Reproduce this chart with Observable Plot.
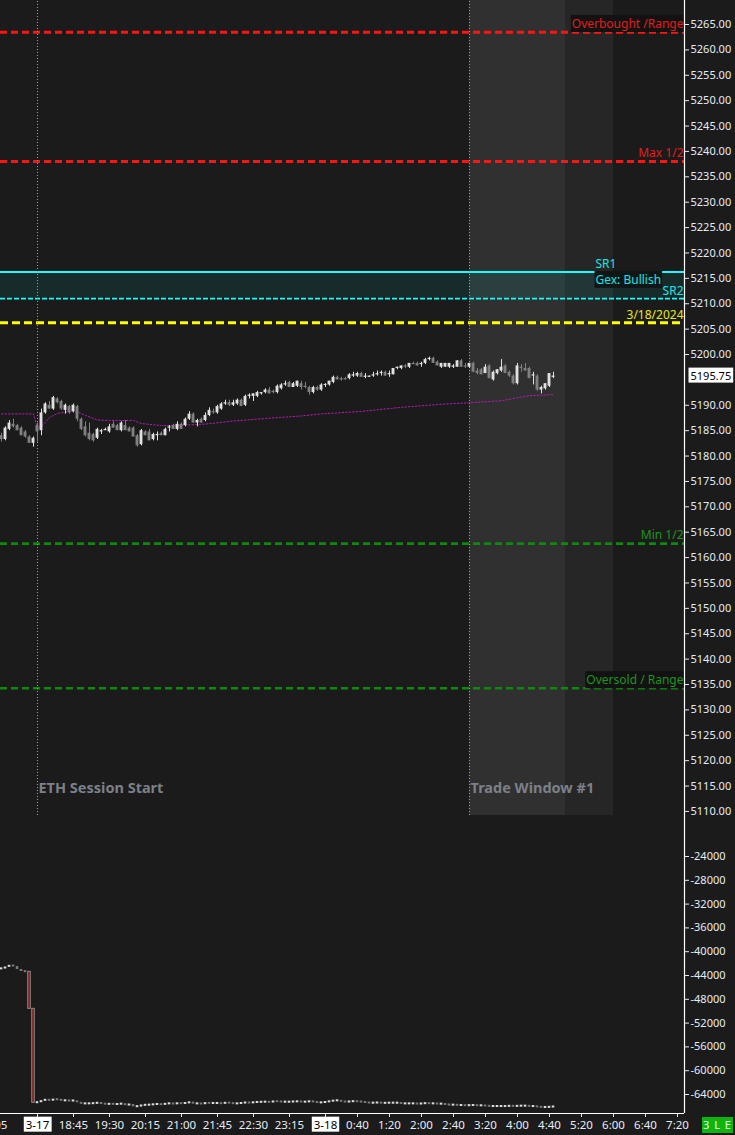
<!DOCTYPE html>
<html><head><meta charset="utf-8">
<script src="https://cdn.jsdelivr.net/npm/d3@7"></script>
<script src="https://cdn.jsdelivr.net/npm/@observablehq/plot@0.6"></script>
<style>
html,body{margin:0;padding:0;background:#1b1b1b;}
#chart{width:735px;height:1135px;position:relative;overflow:hidden;background:#1b1b1b;}
#chart svg{display:block;}
#mode{position:absolute;left:702px;top:1117px;width:31px;height:16px;background:#0fb40f;color:#e8ffe8;font:11px 'Noto Sans',sans-serif;line-height:16px;text-align:center;letter-spacing:1px;}
</style></head><body><div id="chart"></div>
<script>
// ---------- DATA ----------
// bar start, minutes from 18:00 on 3-17 (ETH session start); 5-minute bars
const barTimes = [-45,-40,-35,-30,-25,-20,-15,-10,-5,
  0,5,10,15,20,25,30,35,40,45,50,55,
  60,65,70,75,80,85,90,95,100,105,110,115,
  120,125,130,135,140,145,150,155,160,165,170,175,
  180,185,190,195,200,205,210,215,220,225,230,235,
  240,245,250,255,260,265,270,275,280,285,290,295,
  300,305,310,315,320,325,330,335,340,345,350,355,
  360,365,370,375,380,385,390,395,400,405,410,415,
  420,425,430,435,440,445,450,455,460,465,470,475,
  480,485,490,495,500,505,510,515,520,525,530,535,
  540,545,550,555,560,565,570,575,580,585,590,595,
  600,605,610,615,620,625,630,635,640,645];
const barOpen = [5184.0,5183.25,5185.25,5186.25,5186.0,5185.5,5184.75,5183.75,5182.5,
  5186.0,5185.0,5188.5,5190.0,5189.25,5191.25,5190.75,5189.0,5189.75,5188.75,5189.75,5187.25,
  5185.75,5184.5,5184.25,5183.5,5184.75,5185.0,5184.75,5186.25,5186.0,5185.0,5186.0,5185.5,
  5185.5,5184.0,5182.25,5184.75,5184.75,5183.25,5184.0,5184.5,5184.0,5185.5,5186.0,5185.25,
  5186.25,5186.0,5187.25,5188.25,5186.5,5187.25,5187.0,5188.0,5188.75,5188.5,5189.25,5190.25,
  5190.5,5190.0,5190.25,5191.0,5190.0,5191.75,5191.75,5191.75,5192.25,5192.5,5193.0,5192.75,
  5192.5,5193.25,5194.0,5194.5,5193.5,5193.75,5194.25,5193.75,5193.5,5192.5,5193.5,5193.0,
  5194.0,5194.0,5194.5,5195.5,5195.25,5195.25,5195.25,5195.75,5195.75,5196.25,5195.5,5195.5,
  5195.75,5196.0,5196.25,5196.5,5196.0,5196.0,5197.25,5197.25,5197.75,5197.5,5198.25,5198.25,
  5198.0,5198.25,5199.0,5199.25,5198.5,5197.5,5197.5,5197.5,5197.5,5197.5,5198.75,5197.75,
  5197.5,5198.25,5196.75,5197.0,5196.25,5197.75,5195.0,5196.25,5196.75,5197.75,5196.5,5195.75,
  5194.25,5197.5,5197.25,5197.25,5195.75,5195.75,5193.0,5193.25,5193.75,5195.5];
const barHigh = [5184.5,5185.75,5187.0,5187.25,5186.25,5185.75,5185.0,5184.0,5183.75,
  5186.5,5189.25,5190.5,5190.75,5191.75,5191.5,5191.0,5190.25,5190.0,5190.25,5190.0,5187.5,
  5186.75,5186.5,5184.5,5185.5,5185.25,5185.5,5186.25,5186.75,5186.25,5186.75,5187.0,5185.75,
  5185.75,5184.25,5185.25,5185.0,5185.25,5184.5,5184.75,5184.75,5185.5,5186.0,5186.25,5186.75,
  5186.5,5187.5,5188.75,5188.5,5187.25,5187.5,5188.5,5189.5,5189.25,5190.0,5190.5,5191.0,
  5191.0,5191.0,5191.25,5191.25,5192.0,5192.25,5192.25,5192.75,5192.5,5193.25,5193.5,5193.0,
  5194.0,5194.25,5194.75,5194.75,5194.5,5194.75,5194.75,5194.5,5193.75,5193.75,5193.75,5194.25,
  5194.25,5194.75,5195.75,5195.75,5195.5,5195.5,5196.25,5196.5,5196.5,5196.5,5196.25,5195.75,
  5196.5,5196.75,5196.75,5196.75,5196.75,5197.25,5197.5,5197.75,5198.0,5198.25,5198.5,5198.5,
  5198.5,5199.25,5199.5,5199.5,5198.75,5198.25,5198.25,5198.25,5198.0,5198.75,5199.0,5198.25,
  5198.25,5198.5,5197.25,5197.25,5198.0,5198.0,5196.75,5197.0,5199.0,5198.0,5196.75,5196.0,
  5198.25,5198.0,5198.25,5197.5,5196.5,5196.0,5193.75,5194.25,5196.25,5196.5];
const barLow = [5182.75,5183.0,5185.0,5185.5,5185.0,5184.0,5183.5,5182.5,5181.75,
  5182.75,5184.0,5188.25,5189.25,5189.0,5190.25,5189.0,5188.25,5188.25,5188.5,5186.75,5185.0,
  5183.75,5183.0,5182.75,5183.25,5184.25,5185.0,5184.5,5185.5,5185.0,5184.75,5185.0,5184.75,
  5183.75,5181.75,5182.0,5184.0,5183.0,5183.0,5183.0,5184.0,5184.0,5184.75,5185.25,5185.0,
  5185.25,5185.75,5187.0,5186.5,5185.75,5186.5,5186.75,5187.75,5188.25,5188.25,5189.0,5190.0,
  5189.75,5189.75,5190.0,5189.75,5189.75,5191.25,5190.75,5191.5,5192.0,5192.25,5192.25,5192.25,
  5192.25,5193.0,5193.75,5193.5,5193.5,5193.5,5193.0,5193.25,5192.0,5192.25,5192.75,5192.75,
  5193.5,5193.75,5194.25,5195.0,5194.75,5195.0,5195.0,5195.5,5195.5,5195.5,5195.25,5195.5,
  5195.5,5195.75,5195.75,5195.75,5195.5,5196.0,5197.0,5197.0,5197.25,5197.25,5198.0,5197.75,
  5197.5,5198.0,5198.75,5198.25,5197.75,5197.25,5197.5,5197.25,5197.25,5197.5,5197.5,5197.25,
  5197.25,5196.5,5196.0,5196.0,5196.25,5195.25,5194.75,5196.0,5196.5,5196.25,5195.5,5194.0,
  5194.0,5196.5,5196.75,5195.25,5194.0,5192.75,5192.25,5193.0,5193.5,5195.25];
const barClose = [5183.25,5185.5,5186.5,5185.75,5185.0,5184.0,5183.75,5182.5,5183.5,
  5184.75,5188.5,5190.25,5189.25,5191.5,5190.5,5189.25,5190.0,5188.5,5190.0,5187.25,5185.25,
  5184.0,5183.25,5183.0,5185.25,5185.0,5185.25,5185.75,5185.5,5185.0,5186.5,5185.0,5184.75,
  5183.75,5182.0,5185.0,5184.0,5183.0,5184.25,5184.25,5184.0,5185.25,5185.75,5185.25,5186.25,
  5185.25,5187.25,5188.25,5186.5,5187.0,5186.5,5188.0,5189.0,5188.5,5189.75,5190.25,5190.5,
  5190.0,5190.5,5191.0,5189.75,5191.75,5192.0,5192.25,5192.5,5192.5,5193.0,5192.25,5192.5,
  5193.75,5194.0,5194.25,5193.5,5194.25,5194.75,5193.5,5193.5,5192.5,5193.5,5193.0,5194.0,
  5194.0,5194.75,5195.5,5195.0,5195.0,5195.0,5196.0,5196.0,5196.25,5195.5,5195.75,5195.75,
  5196.0,5196.25,5196.5,5195.75,5196.25,5197.25,5197.5,5197.75,5197.5,5198.25,5198.0,5197.75,
  5198.25,5199.0,5199.25,5198.25,5197.75,5198.25,5198.25,5198.25,5197.75,5198.75,5197.5,5197.5,
  5198.25,5196.5,5196.25,5196.0,5197.5,5195.25,5196.5,5197.0,5197.5,5196.25,5195.75,5194.25,
  5197.75,5197.25,5196.75,5195.25,5196.0,5193.0,5193.5,5194.25,5196.25,5195.75];
// lower panel indicator (cumulative), one value per bar
const deltaClose = [-42880,-42600,-42320,-42490,-42990,-43330,-43380,-49600,-65400,
  -65350,-65060,-64900,-65060,-64840,-64900,-65060,-65060,-65120,-65060,-65400,-65570,
  -65570,-65570,-65510,-65460,-65570,-65680,-65620,-65680,-65680,-65570,-65850,-65680,
  -66070,-66020,-65850,-65790,-65790,-65680,-65680,-65740,-65570,-65570,-65620,-65510,
  -65570,-65460,-65340,-65570,-65570,-65620,-65460,-65510,-65510,-65510,-65570,-65400,
  -65510,-65570,-65570,-65460,-65400,-65460,-65340,-65340,-65290,-65290,-65340,-65180,
  -65230,-65290,-65290,-65290,-65230,-65230,-65290,-65290,-65180,-65290,-65400,-65400,
  -65290,-65180,-65060,-65060,-65230,-65290,-65230,-65180,-65230,-65290,-65400,-65460,
  -65460,-65400,-65510,-65460,-65460,-65460,-65460,-65570,-65570,-65570,-65570,-65620,
  -65570,-65510,-65570,-65570,-65620,-65620,-65740,-65790,-65790,-65850,-65850,-65900,
  -65850,-65850,-65900,-65900,-65960,-66020,-66020,-66020,-66020,-66020,-65960,-66020,
  -65960,-65960,-65960,-66020,-66020,-66130,-66180,-66180,-66130,-66070];
// session VWAP readings
const vwapTimes = [-45,-5,0,5,15,25,40,50,60,75,90,120,130,155,185,210,245,285,330,355,405,455,505,540,580,615,645];
const vwapValues = [5188.3,5188.3,5185.4,5185.8,5187.6,5188.4,5188.8,5188.7,5188.0,5187.1,5187.0,5187.0,5186.4,5186.0,5186.1,5186.3,5186.9,5187.4,5187.9,5188.3,5188.8,5189.6,5190.2,5190.5,5190.9,5191.9,5192.1];
// horizontal levels
const levelNames = ["Overbought /Range","Max 1/2","SR1","SR2","3/18/2024","Min 1/2","Oversold / Range"];
const levelValues = [5263.5,5238.0,5216.25,5211.0,5206.25,5162.75,5134.25];
const gexLabel = "Gex: Bullish";
// session / trade window markers (minutes)
const sessionStart = 0;
const windowStart = [540, 660];
const windowEnd = [660, 720];
const sessionLabels = ["ETH Session Start", "Trade Window #1"];
const sessionLabelTimes = [0, 540];
// axis ticks (5195.00 sits under the last-price tag)
const priceTicks = [5110,5115,5120,5125,5130,5135,5140,5145,5150,5155,5160,5165,5170,5175,5180,5185,5190,
  5200,5205,5210,5215,5220,5225,5230,5235,5240,5245,5250,5255,5260,5265];
const deltaTicks = [-24000,-28000,-32000,-36000,-40000,-44000,-48000,-52000,-56000,-60000,-64000];
const xTickTimes = [-56,0,45,90,135,180,225,270,315,360,400,440,480,520,560,600,640,680,720,760,800];
const xTickLabels = ["16:05","3-17","18:45","19:30","20:15","21:00","21:45","22:30","23:15","3-18","0:40","1:20","2:00","2:40","3:20","4:00","4:40","5:20","6:00","6:40","7:20"];

// ---------- SCALES / LAYOUT ----------
const X_DOMAIN = [-46.25, 808.75];
const Y_DOMAIN = [5105.26, 5269.73];
const PANEL_BOTTOM = 5109.2;
const D_DOMAIN = [-67193, -20471];
const FONT = "'Noto Sans', 'DejaVu Sans', sans-serif";

const bars = barTimes.map((t, i) => ({t, o: barOpen[i], h: barHigh[i], l: barLow[i], c: barClose[i]}));
bars.forEach(b => {
  b.up = b.c >= b.o;
  let lo = Math.min(b.o, b.c), hi = Math.max(b.o, b.c);
  if (hi - lo < 0.2) { const m = (hi + lo) / 2; lo = m - 0.1; hi = m + 0.1; }
  b.lo = lo; b.hi = hi;
});
const vwap = vwapTimes.map((t, i) => ({t, v: vwapValues[i]}));
const levels = levelNames.map((name, i) => ({name, value: levelValues[i]}));
const lv = Object.fromEntries(levels.map(d => [d.name, d.value]));
const windows = windowStart.map((s, i) => ({s, e: windowEnd[i], i}));
const xLabelMap = new Map(xTickTimes.map((t, i) => [t, xTickLabels[i]]));
const deltaBars = barTimes.map((t, i) => {
  const c = deltaClose[i], o = i ? deltaClose[i - 1] : c;
  let lo = Math.min(o, c), hi = Math.max(o, c);
  if (hi - lo < 340) { const m = (hi + lo) / 2; lo = m - 170; hi = m + 170; }
  return {t, o, c, lo, hi, up: c >= o, big: o - c > 2000};
});

const lineStyle = {
  "Overbought /Range": {stroke: "#ff1414", w: 3, dash: "7,4", text: "#e41c1c"},
  "Max 1/2": {stroke: "#ff1414", w: 3, dash: "7,4", text: "#e41c1c"},
  "SR1": {stroke: "#19ffff", w: 2, dash: null, text: "#19e6e6"},
  "SR2": {stroke: "#19ffff", w: 1.6, dash: "5,2", text: "#19e6e6"},
  "3/18/2024": {stroke: "#ffff00", w: 3, dash: "8,4", text: "#e6e61a"},
  "Min 1/2": {stroke: "#0c8a0c", w: 2.6, dash: "7,4", text: "#1c961c"},
  "Oversold / Range": {stroke: "#0c8a0c", w: 2.6, dash: "7,4", text: "#1c961c"}
};
const labelAtLeft = new Set(["SR1"]);

const topPlot = Plot.plot({
  width: 735, height: 835,
  marginLeft: 0, marginRight: 51, marginTop: 0, marginBottom: 0,
  style: {background: "#1b1b1b", color: "#e6ecf5", fontFamily: FONT, fontSize: "11px"},
  x: {domain: X_DOMAIN, axis: null},
  y: {domain: Y_DOMAIN, axis: null},
  marks: [
    Plot.rect(windows, {x1: "s", x2: "e", y1: () => PANEL_BOTTOM, y2: () => Y_DOMAIN[1],
      fill: d => d.i === 0 ? "#303030" : "#262626"}),
    Plot.rect([lv["SR1"]], {x1: () => X_DOMAIN[0], x2: () => X_DOMAIN[1], y1: () => lv["SR2"], y2: () => lv["SR1"],
      fill: "#00ffff", fillOpacity: 0.075}),
    ...levels.map(d => Plot.ruleY([d.value], {stroke: lineStyle[d.name].stroke, strokeWidth: lineStyle[d.name].w,
      strokeDasharray: lineStyle[d.name].dash})),
    Plot.ruleX([sessionStart, windowStart[0]], {y1: () => PANEL_BOTTOM, y2: () => Y_DOMAIN[1], stroke: "#a0a0a0",
      strokeWidth: 1, strokeDasharray: "1,2"}),
    Plot.line(vwap, {x: "t", y: "v", stroke: "#b01cb0", strokeWidth: 1, strokeDasharray: "1.5,2"}),
    Plot.ruleX(bars, {x: "t", y1: "l", y2: "h", stroke: d => d.up ? "#e0e0e0" : "#808080", strokeWidth: 1}),
    Plot.rect(bars, {x1: d => d.t - 1.8, x2: d => d.t + 1.8, y1: "lo", y2: "hi", fill: d => d.up ? "#e0e0e0" : "#808080"}),
    ...levels.map(d => Plot.text([d], {
      x: () => labelAtLeft.has(d.name) ? 697.5 : X_DOMAIN[1],
      y: "value", text: "name", dx: labelAtLeft.has(d.name) ? 0 : -1, dy: -8,
      textAnchor: labelAtLeft.has(d.name) ? "start" : "end", lineAnchor: "middle",
      fill: lineStyle[d.name].text, fontSize: 12
    })),
    Plot.text([gexLabel], {x: () => 697.5, y: () => lv["SR1"], dy: 8, text: d => d, textAnchor: "start",
      lineAnchor: "middle", fill: "#19e6e6", fontSize: 12}),
    Plot.text(sessionLabels, {x: (d, i) => sessionLabelTimes[i], y: () => PANEL_BOTTOM + 5.3, text: d => d,
      textAnchor: "start", dx: 1, lineAnchor: "middle", fill: "#7c8089", fontWeight: "bold", fontSize: 14.5}),
    Plot.ruleX([X_DOMAIN[1]], {stroke: "#ffffff", strokeWidth: 1.2}),
    Plot.axisY({anchor: "right", ticks: priceTicks, tickFormat: d => d.toFixed(2), tickSize: 4, tickPadding: 2}),
    Plot.text([barClose[barClose.length - 1]], {x: () => X_DOMAIN[1], y: d => d, text: d => d.toFixed(2),
      dx: 6, textAnchor: "start", lineAnchor: "middle", fill: "#000000", fontSize: 11})
  ]
});

const bottomPlot = Plot.plot({
  width: 735, height: 300,
  marginLeft: 0, marginRight: 51, marginTop: 0, marginBottom: 22,
  style: {background: "#1b1b1b", color: "#e6ecf5", fontFamily: FONT, fontSize: "11px"},
  x: {domain: X_DOMAIN, axis: null},
  y: {domain: D_DOMAIN, axis: null},
  marks: [
    Plot.rect(deltaBars, {x1: d => d.t - 1.6, x2: d => d.t + 1.6, y1: "lo", y2: "hi",
      fill: d => d.big ? "#8a1515" : (d.up ? "#dcdcdc" : "#7a7a7a"),
      stroke: d => d.big ? "#8a8a8a" : "none", strokeWidth: 1}),
    Plot.ruleX([X_DOMAIN[1]], {stroke: "#ffffff", strokeWidth: 1.2}),
    Plot.ruleY([D_DOMAIN[0]], {stroke: "#ffffff", strokeWidth: 1.2}),
    Plot.axisY({anchor: "right", ticks: deltaTicks, tickFormat: d => String(d), tickSize: 4, tickPadding: 2}),
    Plot.axisX({anchor: "bottom", ticks: xTickTimes, tickFormat: d => xLabelMap.get(d), tickSize: 4, tickPadding: 3, fontSize: 11.5})
  ]
});

const chart = document.getElementById("chart");
chart.appendChild(topPlot);
chart.appendChild(bottomPlot);
const mode = document.createElement("div");
mode.id = "mode"; mode.textContent = "3 L E";
chart.appendChild(mode);

function addBoxes(svg, specs) {
  svg.querySelectorAll("text").forEach(t => {
    const s = specs[t.textContent];
    if (!s) return;
    const b = t.getBBox();
    const r = document.createElementNS("http://www.w3.org/2000/svg", "rect");
    r.setAttribute("x", b.x - s.px);
    r.setAttribute("y", b.y - s.py);
    r.setAttribute("width", b.width + 2 * s.px);
    r.setAttribute("height", b.height + 2 * s.py);
    r.setAttribute("fill", s.bg);
    r.setAttribute("stroke", "none");
    const tr = t.getAttribute("transform");
    if (tr) r.setAttribute("transform", tr);
    t.parentNode.insertBefore(r, t);
    if (s.fg) t.setAttribute("fill", s.fg);
  });
}
const lastLabel = barClose[barClose.length - 1].toFixed(2);
addBoxes(topPlot, {
  "Overbought /Range": {bg: "#121212", px: 1, py: 0},
  "Gex: Bullish": {bg: "#101616", px: 1, py: 0},
  "Oversold / Range": {bg: "#121212", px: 1, py: 0},
  [lastLabel]: {bg: "#ffffff", px: 2, py: 0, fg: "#000000"}
});
addBoxes(bottomPlot, {
  "3-17": {bg: "#ffffff", px: 2, py: 0, fg: "#000000"},
  "3-18": {bg: "#ffffff", px: 2, py: 0, fg: "#000000"}
});
</script></body></html>
